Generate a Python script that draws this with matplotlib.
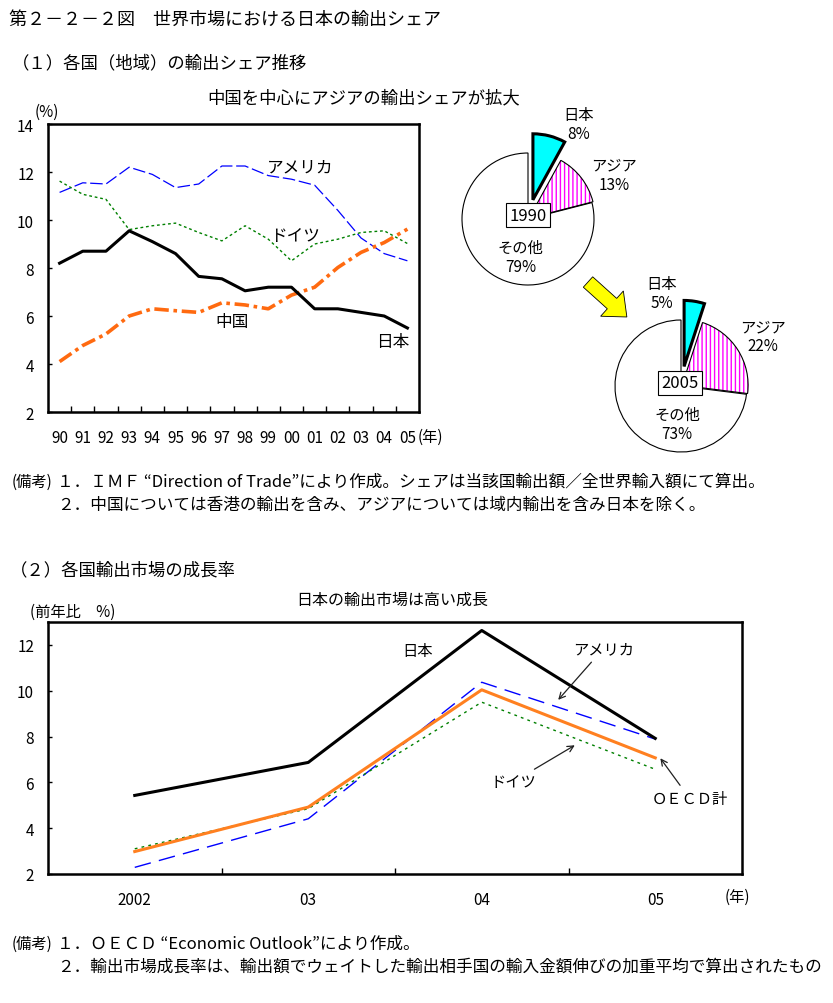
import matplotlib
matplotlib.use('Agg')
import matplotlib.pyplot as plt
from matplotlib.patches import Wedge, FancyArrow

plt.rcParams['font.family'] = ['Noto Sans CJK JP', 'DejaVu Sans']

# (1) export share by country/region, %
years_top = ['90', '91', '92', '93', '94', '95', '96', '97', '98', '99', '00', '01', '02', '03', '04', '05']
japan_share = [8.2, 8.7, 8.7, 9.55, 9.1, 8.6, 7.65, 7.55, 7.05, 7.2, 7.2, 6.3, 6.3, 6.15, 6.0, 5.5]
usa_share = [11.15, 11.55, 11.5, 12.2, 11.9, 11.35, 11.5, 12.25, 12.25, 11.85, 11.7, 11.45, 10.4, 9.25, 8.6, 8.3]
germany_share = [11.62, 11.07, 10.86, 9.6, 9.76, 9.87, 9.48, 9.13, 9.76, 9.2, 8.3, 9.0, 9.2, 9.48, 9.55, 9.02]
china_share = [4.1, 4.77, 5.25, 6.0, 6.3, 6.22, 6.15, 6.55, 6.46, 6.3, 6.87, 7.2, 8.02, 8.65, 9.06, 9.62]

# pies
pie_labels = ['日本', 'アジア', 'その他']
share_1990 = [8, 13, 79]
share_2005 = [5, 22, 73]

# (2) export market growth, % y/y
years_bottom = ['2002', '03', '04', '05']
japan_growth = [5.43, 6.87, 12.63, 7.92]
usa_growth = [2.29, 4.41, 10.37, 7.89]
oecd_growth = [2.98, 4.92, 10.04, 7.07]
germany_growth = [3.1, 4.85, 9.5, 6.57]

W, H = 833, 1004
fig = plt.figure(figsize=(W / 100, H / 100), dpi=100)


def px_axes(l, t, r, b):
    return fig.add_axes([l / W, 1 - b / H, (r - l) / W, (b - t) / H])


def style_box(ax, n):
    for s in ax.spines.values():
        s.set_linewidth(1.8)
    ax.set_xticks(range(n))
    ax.set_xticks([i + 0.5 for i in range(n - 1)], minor=True)
    ax.tick_params(axis='x', which='major', length=0, pad=12, labelsize=11)
    ax.tick_params(axis='x', which='minor', direction='in', length=4, width=1)
    ax.tick_params(axis='y', direction='in', length=3, width=1, pad=10, labelsize=11)
    ax.set_xlim(-0.5, n - 0.5)


# ---- top line chart
ax1 = px_axes(48, 125, 419, 413)
x1 = range(len(years_top))
ax1.plot(x1, usa_share, color='#0000ff', lw=0.9, dashes=(10, 3))
ax1.plot(x1, germany_share, color='#008000', lw=1.0, dashes=(2, 2))
ax1.plot(x1, china_share, color='#ff6a10', lw=2.6, dashes=(4, 1.3, 1, 1.3))
ax1.plot(x1, japan_share, color='black', lw=2.2)
style_box(ax1, len(years_top))
ax1.set_xticklabels(years_top)
ax1.set_ylim(2, 14)
ax1.set_yticks(range(2, 15, 2))
ax1.text(10.37, 12.21, 'アメリカ', fontsize=12, ha='center', va='center')
ax1.text(10.15, 9.375, 'ドイツ', fontsize=12, ha='center', va='center')
ax1.text(7.43, 5.79, '中国', fontsize=12, ha='center', va='center')
ax1.text(14.38, 4.92, '日本', fontsize=12, ha='center', va='center')

# ---- pies
R = 66


def draw_pie(cx, cy, shares, year, pos):
    half = 1.6 * R
    ax = px_axes(cx - half, cy - half, cx + half, cy + half)
    wedges, _ = ax.pie(shares, startangle=90, counterclock=False,
                       explode=[0.3, 0.02, 0], radius=1,
                       wedgeprops=dict(ec='black', lw=0.8, fc='white'))
    wedges[0].set_facecolor('#00ffff')
    wedges[0].set_linewidth(2.2)
    wedges[0].set_joinstyle('miter')
    w = wedges[1]
    w.set_hatch('||||')
    w.set_edgecolor('#ff00ff')
    w.set_linewidth(0)
    ax.add_patch(Wedge(w.center, w.r, w.theta1, w.theta2, fill=False, ec='black', lw=0.8))
    ax.set_xlim(-1.6, 1.6)
    ax.set_ylim(-1.6, 1.6)
    for lab, val, (tx, ty) in zip(pie_labels, shares, pos):
        ax.text(tx, ty, f'{lab}\n{val}%', fontsize=11, ha='center', va='center', linespacing=1.15)
    ax.text(pos[3][0], pos[3][1], year, fontsize=12, ha='center', va='center',
            bbox=dict(boxstyle='square,pad=0.2', fc='white', ec='black', lw=0.8))


draw_pie(528, 220, share_1990, '1990', [(0.76, 1.44), (1.30, 0.67), (-0.11, -0.58), (0, 0.06)])
draw_pie(681, 387, share_2005, '2005', [(-0.29, 1.41), (1.24, 0.75), (-0.06, -0.58), (-0.02, 0.05)])

# ---- bottom line chart
ax2 = px_axes(48, 623, 742, 875)
x2 = range(len(years_bottom))
ax2.plot(x2, usa_growth, color='#0000ff', lw=1.0, dashes=(12, 6))
ax2.plot(x2, germany_growth, color='#008000', lw=1.0, dashes=(2, 3))
ax2.plot(x2, oecd_growth, color='#ff8020', lw=2.2)
ax2.plot(x2, japan_growth, color='black', lw=2.2)
style_box(ax2, len(years_bottom))
ax2.set_xticklabels(years_bottom)
ax2.set_ylim(2, 13)
ax2.set_yticks(range(2, 13, 2))
arr = dict(arrowstyle='->', color='#202020', lw=0.9)
ax2.text(1.63, 11.74, '日本', fontsize=11, ha='center', va='center')
ax2.annotate('アメリカ', xy=(2.43, 9.51), xytext=(2.70, 11.83), fontsize=11,
             ha='center', va='center', arrowprops=arr)
ax2.annotate('ドイツ', xy=(2.55, 7.68), xytext=(2.18, 6.02), fontsize=11,
             ha='center', va='center', arrowprops=arr)
ax2.annotate('ＯＥＣＤ計', xy=(3.02, 7.15), xytext=(3.20, 5.28), fontsize=11,
             ha='center', va='center', arrowprops=arr)

# ---- overlay for free text and the yellow arrow
ax0 = fig.add_axes([0, 0, 1, 1])
ax0.set_xlim(0, W)
ax0.set_ylim(H, 0)
ax0.axis('off')

ax0.add_patch(FancyArrow(588, 283, 24, 21.6, width=14, head_width=34, head_length=20,
                         length_includes_head=False, fc='#ffff00', ec='black', lw=0.6))

ax0.text(9, 20, '第２－２－２図　世界市場における日本の輸出シェア', fontsize=13, va='center')
ax0.text(12, 63, '（１）各国（地域）の輸出シェア推移', fontsize=12.5, va='center')
ax0.text(364, 98, '中国を中心にアジアの輸出シェアが拡大', fontsize=12.5, ha='center', va='center')
ax0.text(47, 112, '(%)', fontsize=11, ha='center', va='center')
ax0.text(418, 437, '(年)', fontsize=11, va='center')
ax0.text(12, 482, '(備考)', fontsize=11, va='center')
ax0.text(57, 482, '１．ＩＭＦ “Direction of Trade”により作成。シェアは当該国輸出額／全世界輸入額にて算出。',
         fontsize=12, va='center')
ax0.text(57, 505, '２．中国については香港の輸出を含み、アジアについては域内輸出を含み日本を除く。',
         fontsize=12, va='center')
ax0.text(10, 570, '（２）各国輸出市場の成長率', fontsize=12.5, va='center')
ax0.text(392, 600, '日本の輸出市場は高い成長', fontsize=11.5, ha='center', va='center')
ax0.text(30, 612, '(前年比　%)', fontsize=11, va='center')
ax0.text(737, 897, '(年)', fontsize=11, ha='center', va='center')
ax0.text(12, 944, '(備考)', fontsize=11, va='center')
ax0.text(57, 944, '１．ＯＥＣＤ “Economic Outlook”により作成。', fontsize=12, va='center')
ax0.text(57, 967, '２．輸出市場成長率は、輸出額でウェイトした輸出相手国の輸入金額伸びの加重平均で算出されたもの',
         fontsize=12, va='center')

fig.savefig('out.png', dpi=100, facecolor='white')
